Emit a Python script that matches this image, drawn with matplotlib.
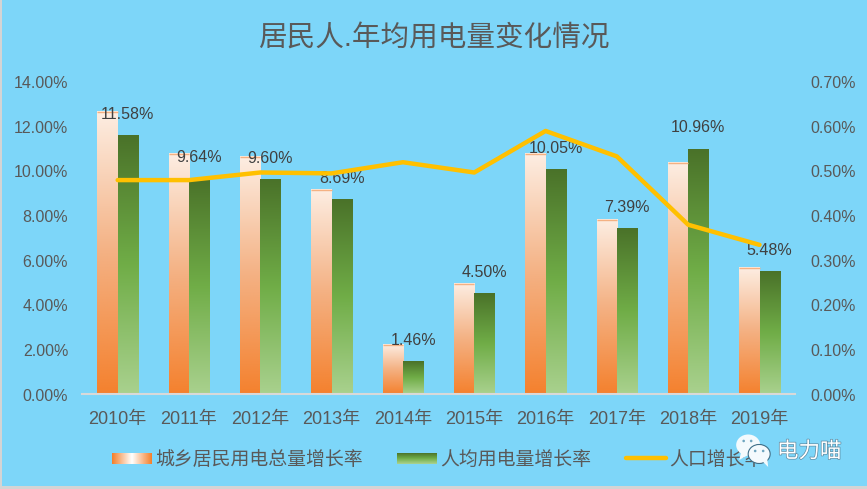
import numpy as np
import matplotlib
matplotlib.use("Agg")
import matplotlib.pyplot as plt
from matplotlib.colors import LinearSegmentedColormap as LSC
from matplotlib.legend_handler import HandlerBase
from matplotlib.patches import Rectangle, Ellipse, Polygon
from matplotlib.lines import Line2D
from matplotlib import font_manager as fm
import matplotlib.patheffects as pe

plt.rcParams['font.family'] = ['Liberation Sans', 'Noto Sans CJK SC', 'DejaVu Sans']
names = {f.name for f in fm.fontManager.ttflist}
NARROW = 'Liberation Sans Narrow' if 'Liberation Sans Narrow' in names else 'Liberation Sans'
NUM_SIZE = 14 if NARROW.endswith('Narrow') else 11.5

years = ['2010年', '2011年', '2012年', '2013年', '2014年', '2015年', '2016年', '2017年', '2018年', '2019年']
total_growth = [12.65, 10.75, 10.65, 9.15, 2.20, 4.95, 10.75, 7.80, 10.35, 5.65]
per_capita_growth = [11.58, 9.64, 9.60, 8.69, 1.46, 4.50, 10.05, 7.39, 10.96, 5.48]
population_growth = [0.480, 0.480, 0.497, 0.495, 0.520, 0.497, 0.590, 0.533, 0.380, 0.335]
series_names = ['城乡居民用电总量增长率', '人均用电量增长率', '人口增长率']
title = '居民人.年均用电量变化情况'

BG = '#7DD6F9'
TXT = '#595959'
orange = LSC.from_list('o', ['#FDEEE3', '#F4B183', '#F4812E'])
green = LSC.from_list('g', ['#4A7229', '#70AD47', '#A9D18E'])
orange_key = LSC.from_list('ok', ['#F4812E', '#FFFFFF', '#F4812E'])

W, H = 867, 489
fig = plt.figure(figsize=((W+0.2)/100, (H+0.2)/100), dpi=100, facecolor=BG)
ax = fig.add_axes([82/W, 1-394.5/H, (795-82)/W, (394.5-82)/H], facecolor='none')

x = np.arange(len(years))
bw = 0.285
grad = np.linspace(0, 1, 256).reshape(-1, 1)
b1 = ax.bar(x - bw/2, total_growth, bw, color='none')
b2 = ax.bar(x + bw/2, per_capita_growth, bw, color='none')
for bars, cm in ((b1, orange), (b2, green)):
    for r in bars:
        ax.imshow(grad, cmap=cm, aspect='auto', origin='upper', zorder=2,
                  extent=(r.get_x(), r.get_x()+r.get_width(), 0, r.get_height()))
ax.hlines(total_growth, x-bw, x, color='#F4B183', lw=1, zorder=3)
for xi, v in zip(x, per_capita_growth):
    ax.annotate(f'{v:.2f}%', (xi+bw/2, v), xytext=(0, 15.8), textcoords='offset points',
                ha='center', va='center', fontsize=NUM_SIZE, family=NARROW,
                color='#404040', zorder=6)

ax.set_xlim(-0.5, 9.5)
ax.set_ylim(0, 14)
ax.set_xticks(x, years)
ax.set_yticks(np.arange(0, 15, 2), [f'{v:.2f}%' for v in np.arange(0, 15, 2)])
ax.tick_params(length=0, labelsize=13, labelcolor=TXT)
ax.tick_params(axis='x', pad=11.5)
ax.tick_params(axis='y', pad=10, labelsize=NUM_SIZE)
for lab in ax.get_yticklabels():
    lab.set_family(NARROW)
for s in ('top', 'left', 'right'):
    ax.spines[s].set_visible(False)
ax.spines['bottom'].set_color('#D9D9D9')
ax.spines['bottom'].set_linewidth(1.5)

ax2 = ax.twinx()
ax2.patch.set_visible(False)
ax2.plot(x, population_growth, color='#FFC000', lw=3.2, solid_capstyle='round', zorder=5)
ax2.set_ylim(0, 0.7)
ax2.set_yticks(np.arange(0, 0.71, 0.1), [f'{v:.2f}%' for v in np.arange(0, 0.71, 0.1)])
ax2.tick_params(length=0, labelsize=NUM_SIZE, labelcolor=TXT, pad=11)
for lab in ax2.get_yticklabels():
    lab.set_family(NARROW)
for s in ax2.spines.values():
    s.set_visible(False)
ax.set_zorder(ax2.get_zorder() - 1)

fig.text(434/W, 1-39/H, title, ha='center', va='center', fontsize=20.6, color=TXT)

class GradKey(HandlerBase):
    def __init__(self, cm, horizontal):
        super().__init__()
        self.cm, self.horizontal = cm, horizontal
    def create_artists(self, legend, orig, xd, yd, w, h, fs, trans):
        n = 40
        arts = []
        kh = h * 0.85
        y0 = -yd + (h - kh)/2
        for i in range(n):
            t = i/(n-1)
            if self.horizontal:
                rect = Rectangle((-xd+w*i/n, y0), w/n*1.1, kh)
            else:
                rect = Rectangle((-xd, y0+kh*(1-(i+1)/n)), w, kh/n*1.1)
            rect.set(facecolor=self.cm(t), edgecolor='none', transform=trans)
            arts.append(rect)
        return arts

h1 = Rectangle((0, 0), 1, 1)
h2 = Rectangle((0, 0), 1, 1)
h3 = Line2D([], [], color='#FFC000', lw=3.2, solid_capstyle='round')
leg = ax2.legend([h1, h2, h3], series_names, ncol=3, frameon=False,
                 loc='center', bbox_to_anchor=(437.5/W, 1-460/H), bbox_transform=fig.transFigure,
                 fontsize=13.6, labelcolor=TXT, handlelength=2.13, handletextpad=0.18,
                 columnspacing=1.8, borderpad=0, borderaxespad=0,
                 handler_map={h1: GradKey(orange_key, True), h2: GradKey(green, False)})

# pixel overlay: image frame edges and the watermark
ov = fig.add_axes([0, 0, 1, 1], facecolor='none')
ov.set_xlim(0, W); ov.set_ylim(H, 0); ov.axis('off')
ov.add_patch(Rectangle((0, 0), 2, H, fc='#D4D4D4', ec='none'))
ov.add_patch(Rectangle((0, H-2.5), W, 2.5, fc='#D4D4D4', ec='none'))
ov.add_patch(Ellipse((748, 445), 24, 21, fc='#F4FAFD', ec='none'))
ov.add_patch(Polygon([[741, 452], [739, 460], [748, 455]], fc='#F4FAFD', ec='none'))
ov.add_patch(Ellipse((759, 454), 22, 19, fc='#F4FAFD', ec='#3F6F88', lw=0.8))
ov.add_patch(Polygon([[762, 461], [768, 467], [767, 458]], fc='#F4FAFD', ec='none'))
for ex, ey in ((743.5, 441), (751, 441), (755, 451), (763, 451)):
    ov.add_patch(Ellipse((ex, ey), 2.6, 2.6, fc='#6FA5BF', ec='none'))
ov.text(809, 452, '电力喵', ha='center', va='center', fontsize=15.5, color='white',
        path_effects=[pe.withStroke(linewidth=1.0, foreground='#5B8BA3')])

fig.savefig('out.png', dpi=100, facecolor=BG)
